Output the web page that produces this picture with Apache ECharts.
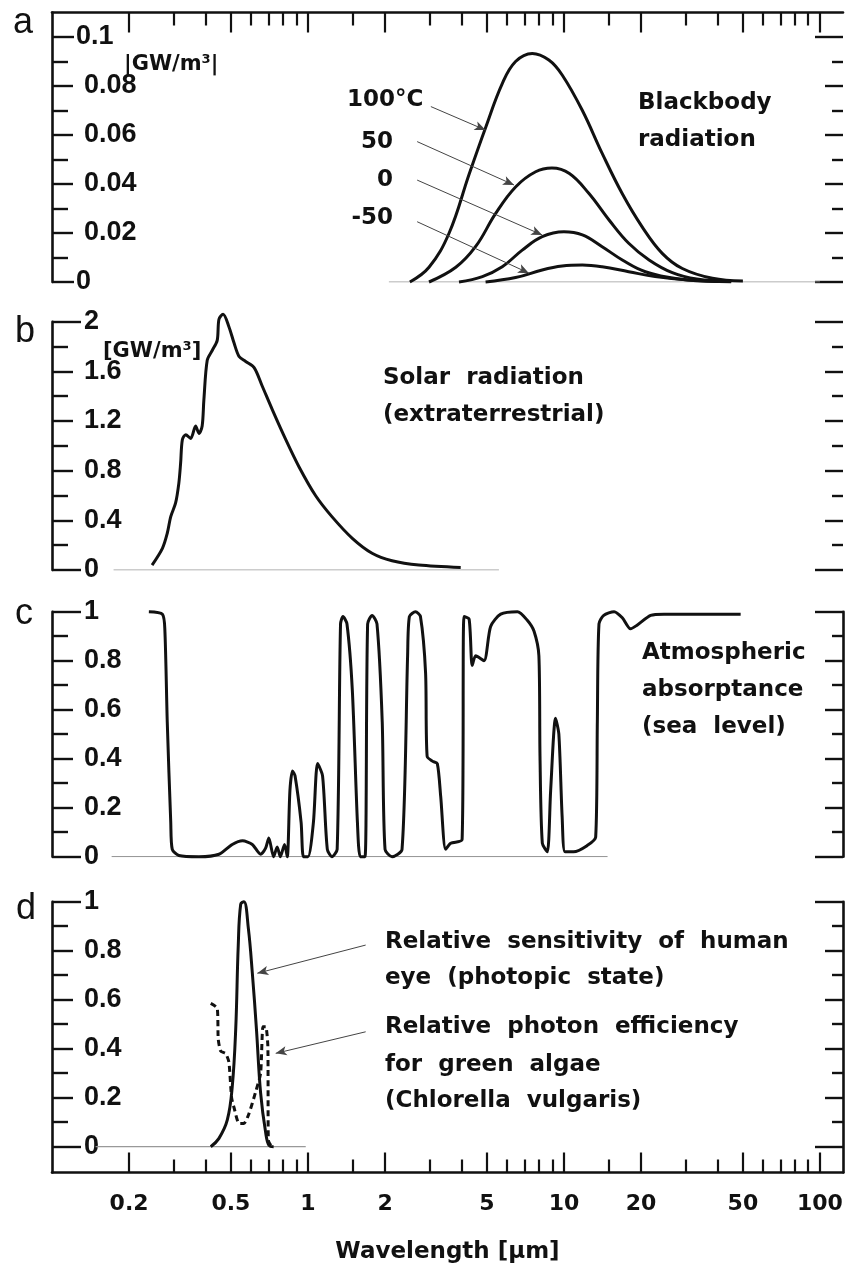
<!DOCTYPE html>
<html>
<head>
<meta charset="utf-8">
<title>Spectra</title>
<script src="https://cdn.jsdelivr.net/npm/echarts@6.0.0/dist/echarts.min.js"></script>
<style>
  html, body { margin: 0; padding: 0; background: #fff; }
  #chart { width: 845px; height: 1267px; }
</style>
</head>
<body>
<div id="chart"></div>
<script>
// wavelength in µm, the x axis runs in log10(wavelength)
var waveLabels = [0.2, 0.5, 1, 2, 5, 10, 20, 50, 100];
var waveMinor = [0.3, 0.4, 0.6, 0.7, 0.8, 0.9, 1.5, 3, 4, 6, 7, 8, 9, 15, 30, 40, 60, 70, 80, 90];

// a: blackbody radiation [GW/m3]
var bb100 = [[2.5, 0], [2.97, 0.006], [3.56, 0.02], [4.26, 0.044], [4.94, 0.063], [5.74, 0.081], [6.47, 0.09],
  [7.52, 0.0933], [8.73, 0.0906], [9.84, 0.0845], [11.8, 0.07], [14.1, 0.0525], [16.9, 0.036], [20.2, 0.0225],
  [24.2, 0.0117], [29, 0.0055], [38, 0.0015], [50, 0.0004]];
var bb50 = [[2.97, 0], [3.78, 0.006], [4.52, 0.0145], [5.41, 0.028], [6.47, 0.0388], [7.75, 0.045], [8.97, 0.0465],
  [10.5, 0.0443], [12.5, 0.0362], [15, 0.0253], [17.9, 0.0158], [21.5, 0.009], [26.5, 0.0038], [33, 0.0012], [45, 0.0002]];
var bb0 = [[3.89, 0], [4.8, 0.0022], [5.74, 0.0062], [6.87, 0.013], [8.22, 0.0185], [10, 0.0205], [11.8, 0.0192],
  [14.1, 0.0144], [16.9, 0.009], [20.8, 0.0042], [28.1, 0.0012], [40, 0.0002]];
var bbMinus50 = [[4.94, 0], [6.47, 0.0018], [8.22, 0.0049], [9.84, 0.0065], [11.8, 0.0069], [14.1, 0.0062],
  [17.9, 0.0042], [22.7, 0.0022], [30.8, 0.0008], [45, 0.0001]];

// b: solar radiation, extraterrestrial [GW/m3]
var solar = [[0.246, 0.04], [0.27, 0.175], [0.282, 0.296], [0.291, 0.43], [0.304, 0.54], [0.313, 0.7], [0.318, 0.86],
  [0.323, 1.05], [0.333, 1.09], [0.348, 1.06], [0.364, 1.16], [0.375, 1.1], [0.386, 1.16], [0.392, 1.37],
  [0.404, 1.69], [0.423, 1.77], [0.442, 1.85], [0.449, 2.02], [0.466, 2.06], [0.491, 1.96], [0.514, 1.83],
  [0.538, 1.72], [0.571, 1.68], [0.616, 1.63], [0.663, 1.48], [0.726, 1.29], [0.819, 1.05], [0.923, 0.83],
  [1.07, 0.6], [1.24, 0.43], [1.49, 0.255], [1.78, 0.135], [2.13, 0.075], [2.71, 0.04], [3.95, 0.02]];

// c: atmospheric absorptance at sea level
var absorptance = [[0.239, 1.0], [0.27, 0.99], [0.276, 0.925], [0.282, 0.55], [0.291, 0.14], [0.295, 0.03],
  [0.313, 0.005], [0.375, 0], [0.449, 0.01], [0.506, 0.05], [0.555, 0.065], [0.606, 0.05], [0.653, 0.01],
  [0.683, 0.035], [0.703, 0.076], [0.734, 0], [0.758, 0.04], [0.78, 0], [0.81, 0.05], [0.83, 0], [0.85, 0.27],
  [0.87, 0.35], [0.89, 0.33], [0.94, 0.14], [0.96, 0], [1.0, 0], [1.05, 0.14], [1.09, 0.38], [1.14, 0.33],
  [1.19, 0.03], [1.24, 0], [1.3, 0.03], [1.34, 0.95], [1.37, 0.98], [1.42, 0.95], [1.49, 0.68], [1.56, 0.14],
  [1.6, 0], [1.67, 0], [1.71, 0.95], [1.78, 0.985], [1.86, 0.95], [1.95, 0.55], [2.0, 0.03], [2.13, 0],
  [2.33, 0.03], [2.45, 0.82], [2.49, 0.98], [2.63, 1.0], [2.75, 0.98], [2.88, 0.75], [2.92, 0.41], [3.06, 0.39],
  [3.2, 0.38], [3.3, 0.245], [3.45, 0.03], [3.61, 0.055], [4.0, 0.07], [4.07, 0.98], [4.26, 0.97], [4.38, 0.78],
  [4.52, 0.82], [4.87, 0.8], [5.17, 0.94], [5.66, 0.99], [6.58, 1.0], [7.19, 0.965], [7.64, 0.92], [7.98, 0.82],
  [8.06, 0.41], [8.23, 0.055], [8.61, 0.02], [8.87, 0.27], [9.27, 0.565], [9.55, 0.5], [9.84, 0.16], [10.1, 0.02],
  [10.9, 0.02], [12.3, 0.045], [13.3, 0.08], [13.5, 0.55], [13.7, 0.95], [14.3, 0.985], [15.7, 1.0], [16.9, 0.975],
  [18.2, 0.93], [19.3, 0.945], [21.8, 0.985], [24.6, 0.99], [49, 0.99]];

// d: relative sensitivity of the eye and photon efficiency of green algae
var eye = [[0.417, 0], [0.449, 0.034], [0.484, 0.109], [0.506, 0.245], [0.522, 0.48], [0.534, 0.82], [0.546, 0.99],
  [0.562, 1.0], [0.585, 0.89], [0.606, 0.71], [0.629, 0.48], [0.653, 0.22], [0.684, 0.055], [0.705, 0.005], [0.734, 0]];
var algae = [[0.417, 0.585], [0.442, 0.565], [0.446, 0.44], [0.456, 0.39], [0.477, 0.38], [0.491, 0.345],
  [0.503, 0.2], [0.514, 0.16], [0.538, 0.095], [0.562, 0.095], [0.588, 0.135], [0.623, 0.22], [0.653, 0.3],
  [0.667, 0.49], [0.684, 0.49], [0.697, 0.41], [0.7, 0.027], [0.716, 0.005], [0.73, 0]];

// thin zero lines, wavelength range
var zeroA = [2.07, 100];
var zeroB = [0.174, 5.57];
var zeroC = [0.171, 14.8];
var zeroD = [0.148, 0.98];

// pointer arrows [from, to] as [wavelength, value]
var arrowsA = [[[3.02, 0.0716], [4.94, 0.062]], [[2.67, 0.0573], [6.38, 0.0396]],
  [[2.67, 0.0416], [8.22, 0.0192]], [[2.67, 0.0246], [7.3, 0.0036]]];
var arrowsD = [[[1.68, 0.823], [0.634, 0.708]], [[1.68, 0.469], [0.748, 0.381]]];

// y ticks per panel: end ticks, labelled ticks, small ticks
var yEndsA = [0, 0.1], yMajorA = [0.02, 0.04, 0.06, 0.08], yMinorA = [0.01, 0.03, 0.05, 0.07, 0.09];
var yEndsB = [0, 2], yMajorB = [0.4, 0.8, 1.2, 1.6], yMinorB = [0.2, 0.6, 1.0, 1.4, 1.8];
var yEndsC = [0, 1], yMajorC = [0.2, 0.4, 0.6, 0.8], yMinorC = [0.1, 0.3, 0.5, 0.7, 0.9];

var INK = '#111';
var X_MIN = -1, X_MAX = 2.09;
var NUM_FONT = 'Liberation Sans';
var TXT_FONT = 'DejaVu Sans';

function lg(w) { return Math.log10(w); }
function toXY(pairs) { return pairs.map(function (p) { return [lg(p[0]), p[1]]; }); }
function zeroLine(r) { return [[lg(r[0]), 0], [lg(r[1]), 0]]; }
function arrowData(list) {
  return list.map(function (a) {
    return [{ coord: [lg(a[0][0]), a[0][1]] }, { coord: [lg(a[1][0]), a[1][1]] }];
  });
}

// the right frame line is cut off by the scan in the two upper panels
var panels = [
  { top: 12.5, height: 269.5, min: 0, max: 0.11, ends: yEndsA, major: yMajorA, minor: yMinorA, endLen: 22, endMargin: 24, rightLine: false },
  { top: 321.7, height: 248.3, min: 0, max: 2, ends: yEndsB, major: yMajorB, minor: yMinorB, endLen: 29, endMargin: 32, rightLine: false },
  { top: 611.7, height: 245, min: 0, max: 1, ends: yEndsC, major: yMajorC, minor: yMinorC, endLen: 29, endMargin: 32, rightLine: true },
  { top: 901.7, height: 270.8, min: -0.1053, max: 1, ends: yEndsC, major: yMajorC, minor: yMinorC, endLen: 29, endMargin: 32, rightLine: true }
];

var grids = panels.map(function (p) {
  return { left: 52, right: 2, top: p.top, height: p.height, outerBoundsMode: 'none' };
});

function xAx(grid, pos, ticks, len, showLine, withLabels) {
  var ax = {
    type: 'value', gridIndex: grid, position: pos, min: X_MIN, max: X_MAX,
    axisLine: { show: showLine, onZero: false, lineStyle: { color: INK, width: 2.6 } },
    axisTick: { show: true, inside: true, length: len, customValues: ticks.map(lg), lineStyle: { color: INK, width: 2.2 } },
    axisLabel: { show: false },
    splitLine: { show: false }
  };
  if (withLabels) {
    ax.axisLabel = {
      show: true, margin: 21, customValues: waveLabels.map(lg),
      fontFamily: TXT_FONT, fontWeight: 'bold', fontSize: 22, color: INK,
      formatter: function (v) { return String(+Math.pow(10, v).toPrecision(3)); }
    };
    ax.name = 'Wavelength [μm]';
    ax.nameLocation = 'middle';
    ax.nameGap = 68;
    ax.nameTextStyle = { fontFamily: TXT_FONT, fontWeight: 'bold', fontSize: 23, color: INK };
  }
  return ax;
}

var xAxes = [
  xAx(0, 'top', waveLabels, 20, true, false),
  xAx(0, 'top', waveMinor, 13, false, false),
  { type: 'value', gridIndex: 1, show: false, min: X_MIN, max: X_MAX },
  { type: 'value', gridIndex: 2, show: false, min: X_MIN, max: X_MAX },
  xAx(3, 'bottom', waveLabels, 20, true, true),
  xAx(3, 'bottom', waveMinor, 13, false, false)
];
var xIndex = [0, 2, 3, 4];

function yAx(grid, p, pos, ticks, len, showLine, labels, margin) {
  return {
    type: 'value', gridIndex: grid, position: pos, min: p.min, max: p.max,
    axisLine: { show: showLine, onZero: false, lineStyle: { color: INK, width: 2.6 } },
    axisTick: { show: true, inside: true, length: len, customValues: ticks, lineStyle: { color: INK, width: 2.4 } },
    axisLabel: labels ? {
      show: true, inside: true, margin: margin, customValues: labels,
      fontFamily: NUM_FONT, fontWeight: 'bold', fontSize: 27, color: INK
    } : { show: false },
    splitLine: { show: false }
  };
}

var yAxes = [];
panels.forEach(function (p, g) {
  yAxes.push(yAx(g, p, 'left', p.ends, p.endLen, true, p.ends, p.endMargin));
  yAxes.push(yAx(g, p, 'left', p.major, 21, false, p.major, 32));
  yAxes.push(yAx(g, p, 'left', p.minor, 16, false, null));
  yAxes.push(yAx(g, p, 'right', p.ends, 28, p.rightLine, null));
  yAxes.push(yAx(g, p, 'right', p.major, 18, false, null));
  yAxes.push(yAx(g, p, 'right', p.minor, 11, false, null));
});

function curve(g, pairs, dashed, smooth) {
  return {
    type: 'line', xAxisIndex: xIndex[g], yAxisIndex: g * 6, data: toXY(pairs),
    showSymbol: false, symbol: 'none', smooth: smooth, clip: false,
    lineStyle: { color: INK, width: 3, type: dashed ? [6, 4] : 'solid' },
    silent: true, z: 3
  };
}
function baseline(g, range, arrows) {
  var s = {
    type: 'line', xAxisIndex: xIndex[g], yAxisIndex: g * 6, data: zeroLine(range),
    showSymbol: false, symbol: 'none', lineStyle: { color: '#999', width: 1.2 }, silent: true, z: 2
  };
  if (arrows) {
    s.markLine = {
      silent: true, symbol: ['none', 'arrow'], symbolSize: [7, 11], animation: false,
      lineStyle: { color: '#444', width: 1, type: 'solid' }, label: { show: false },
      data: arrowData(arrows)
    };
  }
  return s;
}

var series = [
  baseline(0, zeroA, arrowsA),
  curve(0, bb100, false, 0.4), curve(0, bb50, false, 0.4), curve(0, bb0, false, 0.4), curve(0, bbMinus50, false, 0.4),
  baseline(1, zeroB, null),
  curve(1, solar, false, 0.3),
  baseline(2, zeroC, null),
  curve(2, absorptance, false, 0.25),
  baseline(3, zeroD, arrowsD),
  curve(3, eye, false, 0.4),
  curve(3, algae, true, 0.2)
];

function txt(s, x, y, font, align) {
  return { type: 'text', x: x, y: y, silent: true,
    style: { text: s, font: font, fill: INK, align: align || 'left', verticalAlign: 'middle' } };
}
var F = 'bold 23px "DejaVu Sans"';
var U = 'bold 21px "DejaVu Sans"';
var P = '36px "Liberation Sans"';
var graphics = [
  txt('a', 13, 23, P), txt('b', 15, 332, P), txt('c', 15, 614, P), txt('d', 16, 909, P),
  txt('|GW/m³|', 124, 65, U), txt('[GW/m³]', 103, 352, U),
  txt('100°C', 347, 100, F), txt('50', 393, 142, F, 'right'), txt('0', 393, 180, F, 'right'), txt('-50', 393, 218, F, 'right'),
  txt('Blackbody', 638, 103, F), txt('radiation', 638, 140, F),
  txt('Solar  radiation', 383, 378, F), txt('(extraterrestrial)', 383, 415, F),
  txt('Atmospheric', 642, 653, F), txt('absorptance', 642, 690, F), txt('(sea  level)', 642, 727, F),
  txt('Relative  sensitivity  of  human', 385, 942, F), txt('eye  (photopic  state)', 385, 978, F),
  txt('Relative  photon  efficiency', 385, 1027, F), txt('for  green  algae', 385, 1065, F),
  txt('(Chlorella  vulgaris)', 385, 1101, F)
];

var chart = echarts.init(document.getElementById('chart'), null, { renderer: 'canvas' });
chart.setOption({
  backgroundColor: '#fff',
  animation: false,
  grid: grids,
  xAxis: xAxes,
  yAxis: yAxes,
  series: series,
  graphic: { elements: graphics }
});
</script>
</body>
</html>
